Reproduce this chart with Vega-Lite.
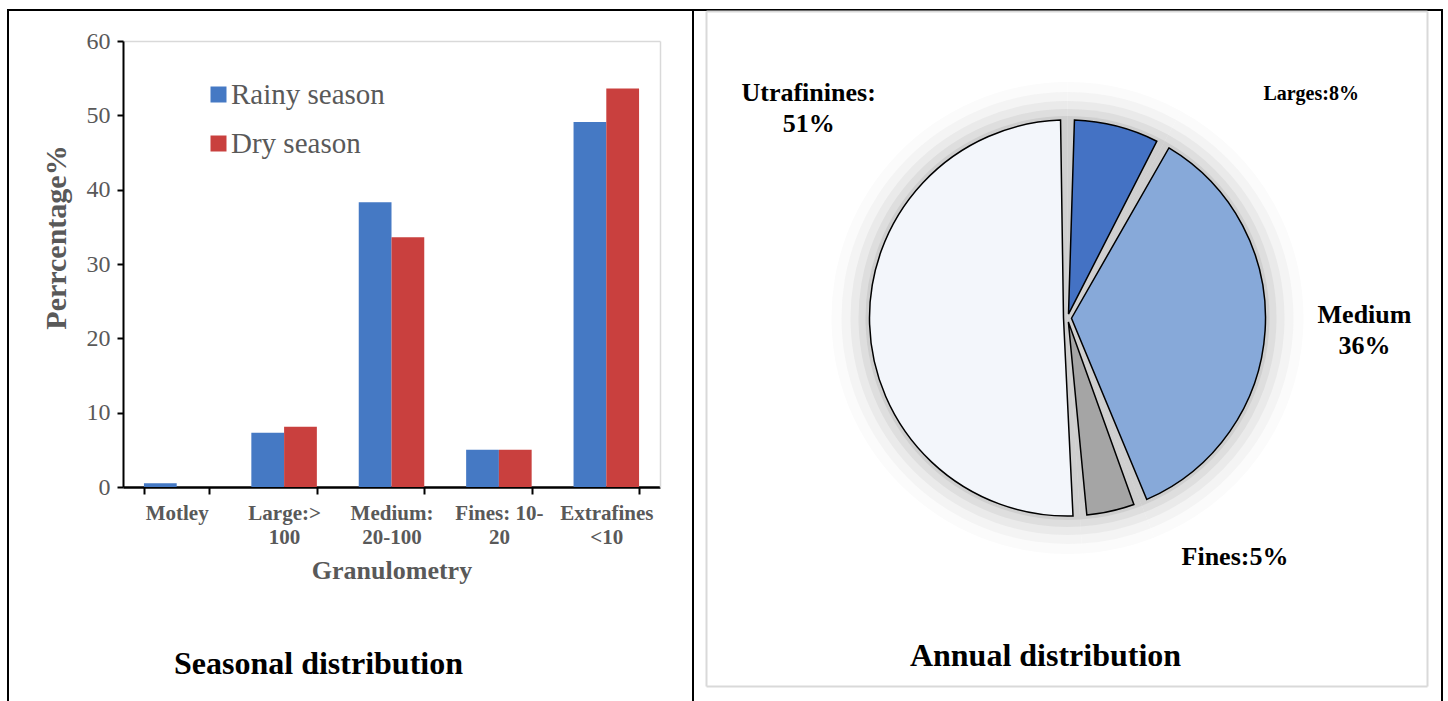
{
  "$schema": "https://vega.github.io/schema/vega-lite/v6.json",
  "background": "white",
  "padding": {"left": 7, "top": -278, "right": 0, "bottom": 0},
  "config": {
    "view": {"stroke": "#000000", "strokeWidth": 2},
    "font": "Liberation Serif"
  },
  "datasets": {
    "bars": [
      {"cat": "Motley", "season": "Rainy season", "pct": 0.5},
      {"cat": "Motley", "season": "Dry season", "pct": 0},
      {"cat": "Large:> 100", "season": "Rainy season", "pct": 7.3},
      {"cat": "Large:> 100", "season": "Dry season", "pct": 8.1},
      {"cat": "Medium: 20-100", "season": "Rainy season", "pct": 38.3},
      {"cat": "Medium: 20-100", "season": "Dry season", "pct": 33.6},
      {"cat": "Fines: 10-20", "season": "Rainy season", "pct": 5.0},
      {"cat": "Fines: 10-20", "season": "Dry season", "pct": 5.0},
      {"cat": "Extrafines <10", "season": "Rainy season", "pct": 49.1},
      {"cat": "Extrafines <10", "season": "Dry season", "pct": 53.6}
    ],
    "pie": [
      {"name": "Larges", "value": 8, "order": 1, "label": "Larges:8%"},
      {"name": "Medium", "value": 36, "order": 2, "label": "Medium\n36%"},
      {"name": "Fines", "value": 5, "order": 3, "label": "Fines:5%"},
      {"name": "Utrafinines", "value": 51, "order": 4, "label": "Utrafinines:\n51%"}
    ]
  },
  "hconcat": [
    {
      "width": 685,
      "height": 692,
      "data": {"name": "bars"},
      "title": {
        "text": "Seasonal distribution",
        "orient": "bottom",
        "anchor": "middle",
        "frame": "group",
        "offset": -53,
        "dx": -32,
        "font": "Liberation Serif",
        "fontSize": 32,
        "fontWeight": "bold",
        "color": "#000000"
      },
      "layer": [
        {
          "mark": {"type": "bar"},
          "encoding": {
            "x": {
              "field": "cat",
              "type": "nominal",
              "sort": null,
              "scale": {"range": [115, 652], "paddingInner": 0.39, "paddingOuter": 0.195},
              "axis": {
                "orient": "bottom",
                "offset": -215,
                "tickBand": "extent",
                "domainColor": "#000000",
                "domainWidth": 2.5,
                "tickColor": "#000000",
                "tickWidth": 2,
                "tickSize": 7,
                "labelAngle": 0,
                "labelFont": "Liberation Serif",
                "labelFontSize": 21,
                "labelFontWeight": "bold",
                "labelColor": "#595959",
                "labelPadding": 8,
                "labelLineHeight": 24,
                "labelExpr": "isString(datum.value) ? (datum.value == 'Fines: 10-20' ? ['Fines: 10-', '20'] : split(datum.value, ' ')) : ''",
                "title": "Granulometry",
                "titleFont": "Liberation Serif",
                "titleFontSize": 26,
                "titleFontWeight": "bold",
                "titleColor": "#595959",
                "titlePadding": 10
              }
            },
            "xOffset": {"field": "season", "type": "nominal", "sort": ["Rainy season", "Dry season"]},
            "y": {
              "field": "pct",
              "type": "quantitative",
              "scale": {"domain": [0, 60], "range": [477, 31], "nice": false, "zero": true},
              "axis": {
                "orient": "left",
                "offset": -115,
                "values": [0, 10, 20, 30, 40, 50, 60],
                "grid": false,
                "domainColor": "#000000",
                "domainWidth": 2,
                "tickColor": "#000000",
                "tickWidth": 2,
                "tickSize": 6,
                "labelFont": "Liberation Serif",
                "labelFontSize": 24,
                "labelColor": "#595959",
                "labelPadding": 7,
                "title": "Perrcentage%",
                "titleFont": "Liberation Serif",
                "titleFontSize": 30,
                "titleFontWeight": "bold",
                "titleColor": "#595959",
                "titleX": -67,
                "titleY": 227,
                "titleBaseline": "middle",
                "titleAlign": "center",
                "titleAngle": -90
              }
            },
            "color": {
              "field": "season",
              "type": "nominal",
              "scale": {"domain": ["Rainy season", "Dry season"], "range": ["#4579c4", "#c9403e"]},
              "legend": {
                "orient": "none",
                "legendX": 196,
                "legendY": 70,
                "title": null,
                "symbolType": "square",
                "symbolSize": 256,
                "symbolStrokeWidth": 0,
                "labelFont": "Liberation Serif",
                "labelFontSize": 29,
                "labelColor": "#595959",
                "labelOffset": -2,
                "rowPadding": 19
              }
            }
          }
        },
        {
          "mark": {"type": "bar", "opacity": 0},
          "encoding": {
            "x": {
              "field": "cat",
              "type": "nominal",
              "sort": null,
              "axis": {"orient": "top", "offset": -31, "domainColor": "#d9d9d9", "domainWidth": 1.5, "ticks": false, "labels": false, "title": null}
            },
            "y": {
              "field": "pct",
              "type": "quantitative",
              "axis": {"orient": "right", "offset": -33, "domainColor": "#d9d9d9", "domainWidth": 1.5, "ticks": false, "labels": false, "grid": false, "title": null}
            }
          }
        }
      ],
      "resolve": {"axis": {"x": "independent", "y": "independent"}}
    },
    {
      "width": 749,
      "height": 692,
      "view": {"stroke": "#000000", "strokeWidth": 2},
      "data": {"name": "pie"},
      "title": {
        "text": "Annual distribution",
        "orient": "bottom",
        "anchor": "middle",
        "frame": "group",
        "offset": -61,
        "dx": -22,
        "font": "Liberation Serif",
        "fontSize": 32,
        "fontWeight": "bold",
        "color": "#000000"
      },
      "layer": [
        {
          "mark": {"type": "point", "opacity": 0},
          "encoding": {
            "x": {
              "field": "value",
              "type": "quantitative",
              "scale": {"domain": [0, 100], "range": [13, 734], "nice": false},
              "axis": {"orient": "top", "offset": -1, "domainColor": "#d9d9d9", "domainWidth": 2, "ticks": false, "labels": false, "grid": false, "title": null}
            },
            "y": {
              "field": "value",
              "type": "quantitative",
              "scale": {"domain": [0, 100], "range": [676, 1], "nice": false},
              "axis": {"orient": "left", "offset": -13, "domainColor": "#d9d9d9", "domainWidth": 2, "ticks": false, "labels": false, "grid": false, "title": null}
            }
          }
        },
        {
          "mark": {"type": "point", "opacity": 0},
          "encoding": {
            "x": {
              "field": "value",
              "type": "quantitative",
              "axis": {"orient": "bottom", "offset": -16, "domainColor": "#d9d9d9", "domainWidth": 2, "ticks": false, "labels": false, "grid": false, "title": null}
            },
            "y": {
              "field": "value",
              "type": "quantitative",
              "axis": {"orient": "right", "offset": -15, "domainColor": "#d9d9d9", "domainWidth": 2, "ticks": false, "labels": false, "grid": false, "title": null}
            }
          }
        },
        {
          "encoding": {
            "theta": {"field": "value", "type": "quantitative", "stack": true},
            "order": {"field": "order", "type": "quantitative"}
          },
          "layer": [
            {"mark": {"type": "arc", "radius": 236, "fill": "#fbfbfb", "yOffset": -38}},
            {"mark": {"type": "arc", "radius": 226, "fill": "#f4f4f4", "yOffset": -38}},
            {"mark": {"type": "arc", "radius": 217, "fill": "#eaeaea", "yOffset": -38}},
            {"mark": {"type": "arc", "radius": 209, "fill": "#dedede", "yOffset": -38}},
            {"mark": {"type": "arc", "radius": 202, "fill": "#cfcfcf", "yOffset": -38}},
            {
              "mark": {"type": "arc", "radius": 198, "radius2": 4, "padAngle": 0.07, "stroke": "#000000", "strokeWidth": 1.5, "yOffset": -38},
              "encoding": {
                "color": {
                  "field": "name",
                  "type": "nominal",
                  "scale": {"domain": ["Larges", "Medium", "Fines", "Utrafinines"], "range": ["#4472c4", "#87a9d9", "#a5a5a5", "#f3f6fb"]},
                  "legend": null
                }
              }
            },
            {
              "mark": {"type": "text", "radius": 331, "thetaOffset": 0.576, "yOffset": -38, "font": "Liberation Serif", "fontWeight": "bold", "fontSize": 20, "align": "center", "baseline": "middle", "color": "#000000"},
              "encoding": {"text": {"condition": {"test": "datum.name === 'Larges'", "field": "label"}, "value": ""}}
            },
            {
              "mark": {"type": "text", "radius": 297, "thetaOffset": -0.073, "yOffset": -38, "font": "Liberation Serif", "fontWeight": "bold", "fontSize": 26, "align": "center", "baseline": "middle", "lineBreak": "\n", "lineHeight": 31, "color": "#000000"},
              "encoding": {"text": {"condition": {"test": "datum.name === 'Medium'", "field": "label"}, "value": ""}}
            },
            {
              "mark": {"type": "text", "radius": 292, "thetaOffset": -0.391, "yOffset": -38, "font": "Liberation Serif", "fontWeight": "bold", "fontSize": 26, "align": "center", "baseline": "middle", "color": "#000000"},
              "encoding": {"text": {"condition": {"test": "datum.name === 'Fines'", "field": "label"}, "value": ""}}
            },
            {
              "mark": {"type": "text", "radius": 343, "thetaOffset": 0.747, "yOffset": -38, "font": "Liberation Serif", "fontWeight": "bold", "fontSize": 26, "align": "center", "baseline": "middle", "lineBreak": "\n", "lineHeight": 31, "color": "#000000"},
              "encoding": {"text": {"condition": {"test": "datum.name === 'Utrafinines'", "field": "label"}, "value": ""}}
            }
          ]
        }
      ],
      "resolve": {"axis": {"x": "independent", "y": "independent"}}
    }
  ],
  "spacing": 0,
  "bounds": "flush",
  "resolve": {"scale": {"color": "independent", "theta": "independent", "x": "independent", "y": "independent"}, "legend": {"color": "independent"}}
}
